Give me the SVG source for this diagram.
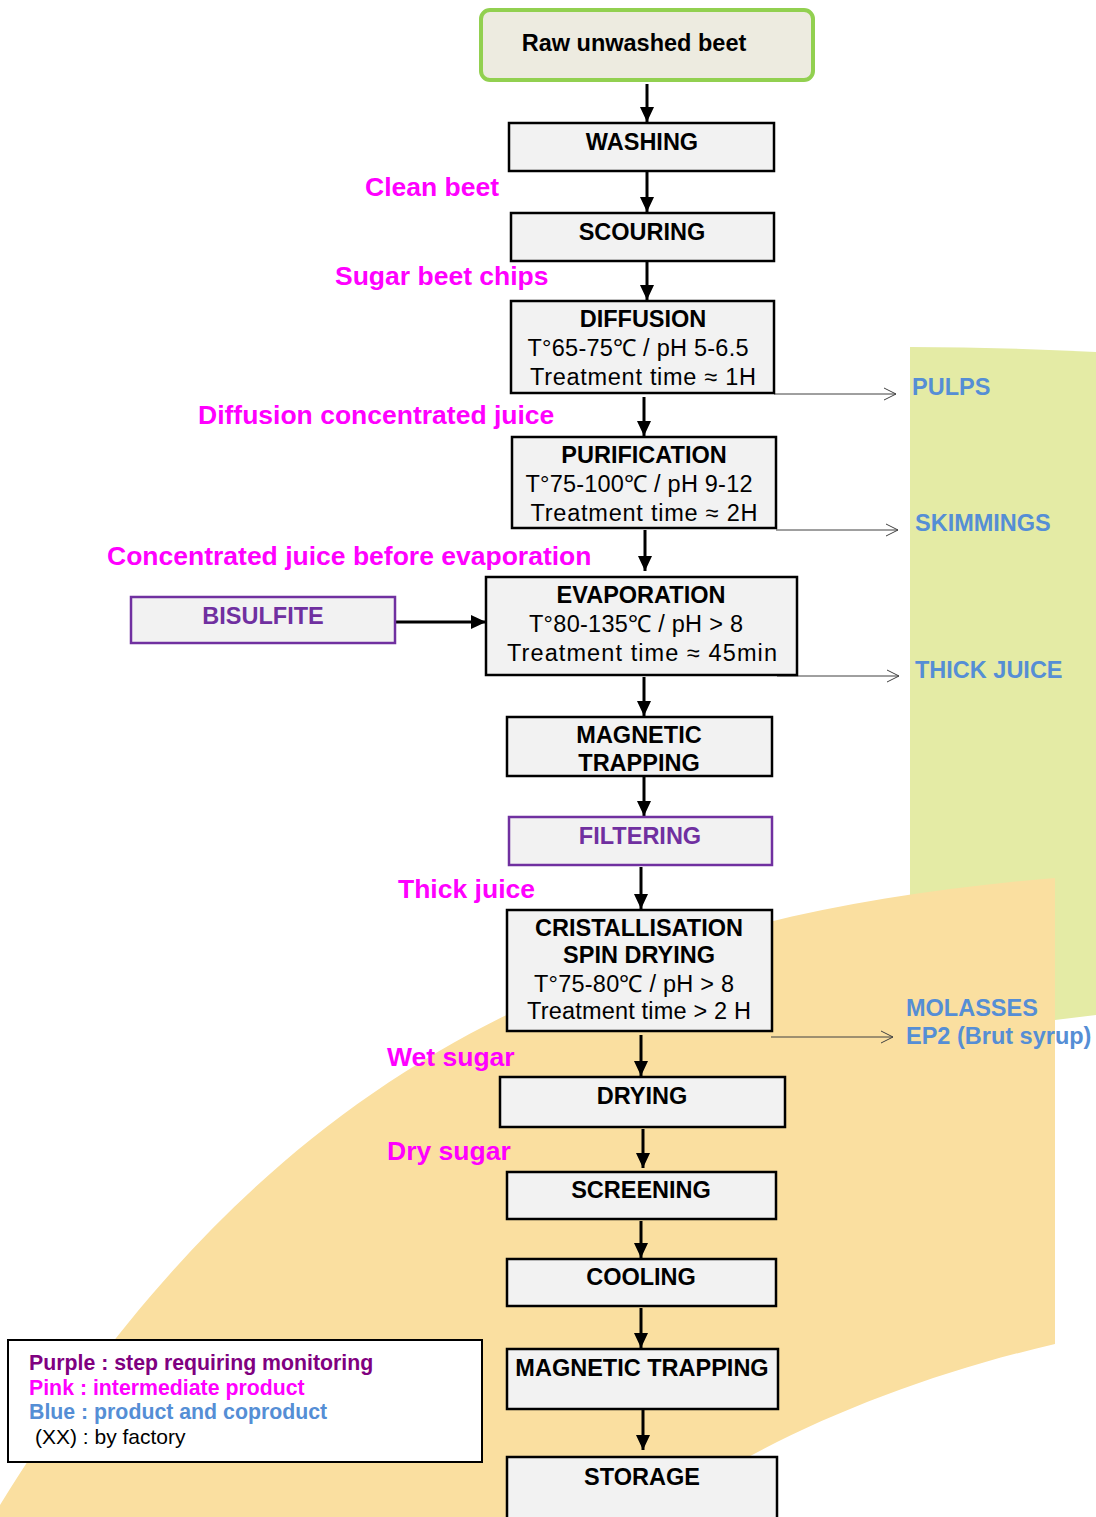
<svg xmlns="http://www.w3.org/2000/svg" width="1096" height="1517" viewBox="0 0 1096 1517">
<defs>
<style>
text{font-family:"Liberation Sans",Arial,sans-serif}
.box{fill:#F2F2F2;stroke:#000;stroke-width:2.5}
.pbox{fill:#F2F2F2;stroke:#7030A0;stroke-width:2.5}
.t{font-size:23.5px;font-weight:bold;fill:#000;text-anchor:middle}
.r{font-size:23.5px;fill:#000;text-anchor:middle}
.pt{font-size:23.5px;font-weight:bold;fill:#7030A0;text-anchor:middle}
.pink{font-size:26.5px;font-weight:bold;fill:#FF00FF}
.blue{font-size:23.5px;font-weight:bold;fill:#558ED5}
.main{stroke:#000;stroke-width:3;fill:none;marker-end:url(#ah)}
.side{stroke:#404040;stroke-width:1;fill:none;marker-end:url(#oh)}
.lg{font-size:21.3px;font-weight:bold}
</style>
<marker id="ah" markerUnits="userSpaceOnUse" markerWidth="16" markerHeight="14" refX="15" refY="7" orient="auto"><path d="M0,0 L15,7 L0,14 Z" fill="#000"/></marker>
<marker id="oh" markerUnits="userSpaceOnUse" markerWidth="14" markerHeight="14" refX="12" refY="7" orient="auto"><path d="M0,1 L12,7 L0,13" fill="none" stroke="#404040" stroke-width="1"/></marker>
</defs>
<rect width="1096" height="1517" fill="#fff"/>
<g id="background">
<path d="M910,347 Q1000,347 1096,352 L1096,1015 L1055,1020 L910,1020 Z" fill="#E4EBA5"/>
<path d="M0,1505 C250,1100 550,920 1055,878 L1055,1344 C900,1380 760,1440 650,1517 L0,1517 Z" fill="#FADFA0"/>
</g>
<g id="connectors">
<line class="main" x1="647" y1="84" x2="647" y2="122"/>
<line class="main" x1="647" y1="172" x2="647" y2="212"/>
<line class="main" x1="647" y1="262" x2="647" y2="300"/>
<line class="main" x1="644" y1="397" x2="644" y2="436"/>
<line class="main" x1="645" y1="530" x2="645" y2="571"/>
<line class="main" x1="396" y1="622" x2="486" y2="622"/>
<line class="main" x1="644" y1="677" x2="644" y2="716"/>
<line class="main" x1="644" y1="777" x2="644" y2="816"/>
<line class="main" x1="641" y1="867" x2="641" y2="909"/>
<line class="main" x1="641" y1="1035" x2="641" y2="1076"/>
<line class="main" x1="643" y1="1129" x2="643" y2="1168"/>
<line class="main" x1="641" y1="1221" x2="641" y2="1258"/>
<line class="main" x1="641" y1="1308" x2="641" y2="1348"/>
<line class="main" x1="643" y1="1410" x2="643" y2="1450"/>
<line class="side" x1="774" y1="394" x2="896" y2="394"/>
<line class="side" x1="776" y1="530" x2="898" y2="530"/>
<line class="side" x1="777" y1="676" x2="899" y2="676"/>
<line class="side" x1="771" y1="1037" x2="893" y2="1037"/>
</g>
<g id="raw"><rect x="481" y="10" width="332" height="70" rx="9" fill="#EDEBE0" stroke="#92D050" stroke-width="4"/><text class="t" x="634" y="51" font-size="22">Raw unwashed beet</text></g>
<g id="washing"><rect class="box" x="509" y="123" width="265" height="48"/><text class="t" x="642" y="150">WASHING</text></g>
<g id="scouring"><rect class="box" x="511" y="213" width="263" height="48"/><text class="t" x="642" y="240">SCOURING</text></g>
<g id="diffusion"><rect class="box" x="511" y="301" width="263" height="92"/><text class="t" x="643" y="327">DIFFUSION</text><text class="r" x="638" y="356" textLength="221">T°65-75℃ / pH 5-6.5</text><text class="r" x="643" y="385" textLength="226">Treatment time ≈ 1H</text></g>
<g id="purification"><rect class="box" x="512" y="437" width="264" height="91"/><text class="t" x="644" y="463">PURIFICATION</text><text class="r" x="639" y="492" textLength="227">T°75-100℃ / pH 9-12</text><text class="r" x="644" y="521" textLength="227">Treatment time ≈ 2H</text></g>
<g id="evaporation"><rect class="box" x="486" y="577" width="311" height="98"/><text class="t" x="641" y="603">EVAPORATION</text><text class="r" x="636" y="632" textLength="214">T°80-135℃ / pH &gt; 8</text><text class="r" x="642" y="661" textLength="270">Treatment time ≈ 45min</text></g>
<g id="bisulfite"><rect class="pbox" x="131" y="597" width="264" height="46"/><text class="pt" x="263" y="624">BISULFITE</text></g>
<g id="magnetic1"><rect class="box" x="507" y="717" width="265" height="59"/><text class="t" x="639" y="743">MAGNETIC</text><text class="t" x="639" y="771">TRAPPING</text></g>
<g id="filtering"><rect class="pbox" x="509" y="817" width="263" height="48"/><text class="pt" x="640" y="844">FILTERING</text></g>
<g id="cristallisation"><rect class="box" x="507" y="910" width="265" height="121"/><text class="t" x="639" y="936">CRISTALLISATION</text><text class="t" x="639" y="963">SPIN DRYING</text><text class="r" x="634" y="992" textLength="200">T°75-80℃ / pH &gt; 8</text><text class="r" x="639" y="1019" textLength="224">Treatment time &gt; 2 H</text></g>
<g id="drying"><rect class="box" x="500" y="1077" width="285" height="50"/><text class="t" x="642" y="1104">DRYING</text></g>
<g id="screening"><rect class="box" x="507" y="1172" width="269" height="47"/><text class="t" x="641" y="1198">SCREENING</text></g>
<g id="cooling"><rect class="box" x="507" y="1259" width="269" height="47"/><text class="t" x="641" y="1285">COOLING</text></g>
<g id="magnetic2"><rect class="box" x="507" y="1349" width="271" height="60"/><text class="t" x="642" y="1376">MAGNETIC TRAPPING</text></g>
<g id="storage"><rect class="box" x="507" y="1457" width="270" height="70"/><text class="t" x="642" y="1485">STORAGE</text></g>
<g id="pink-labels">
<text class="pink" x="365" y="196">Clean beet</text>
<text class="pink" x="335" y="285">Sugar beet chips</text>
<text class="pink" x="198" y="424">Diffusion concentrated juice</text>
<text class="pink" x="107" y="565">Concentrated juice before evaporation</text>
<text class="pink" x="398" y="898">Thick juice</text>
<text class="pink" x="387" y="1066">Wet sugar</text>
<text class="pink" x="387" y="1160">Dry sugar</text>
</g>
<g id="products">
<text class="blue" x="912" y="395">PULPS</text>
<text class="blue" x="915" y="531">SKIMMINGS</text>
<text class="blue" x="915" y="678">THICK JUICE</text>
<text class="blue" x="906" y="1016">MOLASSES</text>
<text class="blue" x="906" y="1044">EP2 (Brut syrup)</text>
</g>
<g id="legend">
<rect x="8" y="1340" width="474" height="122" fill="#fff" stroke="#000" stroke-width="2"/>
<text class="lg" x="29" y="1370" fill="#800080">Purple : step requiring monitoring</text>
<text class="lg" x="29" y="1395" fill="#FF00FF">Pink : intermediate product</text>
<text class="lg" x="29" y="1419" fill="#558ED5">Blue : product and coproduct</text>
<text x="35" y="1444" font-size="21" fill="#000">(XX) : by factory</text>
</g>
</svg>
